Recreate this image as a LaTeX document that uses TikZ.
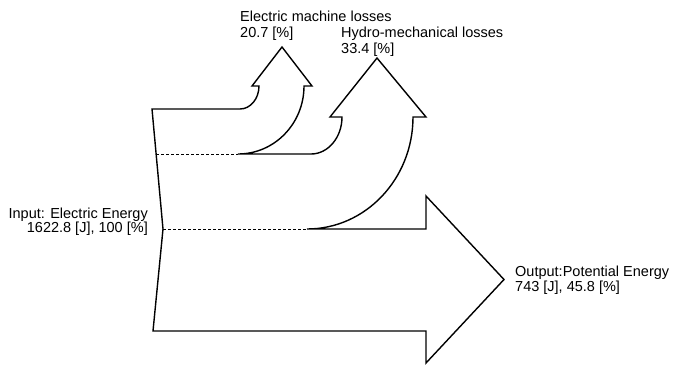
\documentclass[tikz,border=0pt]{standalone}
\usepackage{fontspec}
\setmainfont{Liberation Sans}
\tikzset{
  flow/.style={draw=black, line width=1.4bp, line join=miter, fill=white},
  splitline/.style={draw=black, line width=0.8bp, dash pattern=on 3bp off 2bp},
  lab/.style={inner sep=0pt, font=\fontsize{14.5bp}{16bp}\selectfont}
}
\begin{document}
\begin{tikzpicture}[x=1bp,y=-1bp]
\useasboundingbox[fill=white] (0,0) rectangle (692,364);
% Sankey outline
\draw[flow] (152,109) -- (240,109)
  .. controls (250.5,109) and (259,98.7) .. (259,86)
  -- (252,86) -- (282,47) -- (312,86) -- (304,86)
  .. controls (304,123.6) and (274.5,154) .. (238,154)
  -- (311,154)
  .. controls (328.1,154) and (342,137.4) .. (342,117)
  -- (330,117) -- (377,58) -- (426,117) -- (413,117)
  .. controls (413,178.9) and (365.5,229) .. (307,229)
  -- (426,229) -- (426,196) -- (504,279.5) -- (426,363) -- (426,331)
  -- (153,331) -- (163,229) -- cycle;
% split lines
\coordinate (s1a) at (156,154);
\coordinate (s1b) at (238,154);
\coordinate (s2a) at (163,229);
\coordinate (s2b) at (307,229);
\draw[splitline] (s1a) -- (s1b);
\draw[splitline] (s2a) -- (s2b);
% labels
\node[lab, anchor=base east] (in1) at (148,218) {Input: Electric Energy};
\node[lab, anchor=base east] (in2) at (148,232) {1622.8 [J], 100 [\%]};
\node[lab, anchor=base west] (out1) at (515,276) {Output:Potential Energy};
\node[lab, anchor=base west] (out2) at (515,291) {743 [J], 45.8 [\%]};
\node[lab, anchor=base west] (em1) at (240,21) {Electric machine losses};
\node[lab, anchor=base west] (em2) at (240,37) {20.7 [\%]};
\node[lab, anchor=base west] (hm1) at (341,37) {Hydro-mechanical losses};
\node[lab, anchor=base west] (hm2) at (341,53) {33.4 [\%]};
\end{tikzpicture}
\end{document}
